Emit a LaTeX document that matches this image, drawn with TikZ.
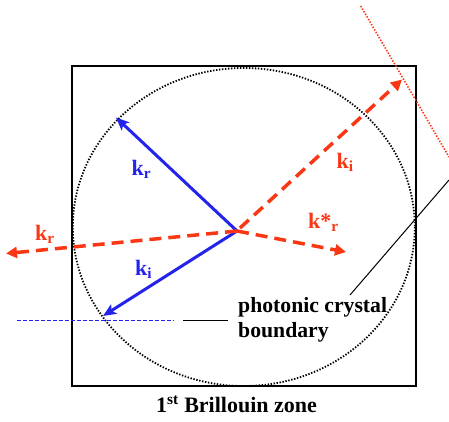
\documentclass[tikz,border=0pt]{standalone}
\usepackage{fontspec}
\setmainfont{Liberation Serif}[BoldFont={Liberation Serif Bold}]
\usetikzlibrary{arrows.meta}
\definecolor{kred}{RGB}{250,55,20}
\definecolor{kblue}{RGB}{35,35,235}
\tikzset{
  lbl/.style={anchor=base west, inner sep=0pt, font=\fontsize{22}{25}\selectfont\bfseries},
  txt/.style={inner sep=0pt, font=\fontsize{21.7}{25}\selectfont\bfseries},
  bluevec/.style={kblue, line width=3pt, -{Stealth[length=13pt,width=11pt,inset=3pt]}},
  redvec/.style={kred, line width=3.5pt, dash pattern=on 12pt off 7pt, -{Triangle[length=11pt,width=11pt]}},
}
\begin{document}
\begin{tikzpicture}[x=1pt,y=-1pt]
\useasboundingbox (0,0) rectangle (449,421);
% Brillouin zone box
\draw[line width=2pt] (72,66) rectangle (416,386);
% dotted circle
\draw[line width=1.8pt, dash pattern=on 1.4pt off 1.6pt] (243.8,227) ellipse [x radius=171, y radius=159];
% red dotted line
\draw[kred, line width=1.6pt, dash pattern=on 1.4pt off 1.6pt] (360.7,6) -- (449,157);
% coordinates
\coordinate (O) at (237,231);
\coordinate (Oi) at (240,228);
\coordinate (bkr) at (116,117.5);
\coordinate (bki) at (103,316);
\coordinate (rki) at (402,79.5);
\coordinate (rkr) at (6,253.5);
\coordinate (rks) at (346,252);
\coordinate (p1) at (449,180);
\coordinate (p2) at (350,295);
\coordinate (d1) at (16.7,320);
\coordinate (d2) at (173,320);
\coordinate (s1) at (183,320);
\coordinate (s2) at (228,320);
% vectors
\draw[bluevec] (O) -- (bkr);
\draw[bluevec] (O) -- (bki);
\draw[redvec] (Oi) -- (rki);
\draw[redvec] (O) -- (rkr);
\draw[redvec] (O) -- (rks);
% boundary lines
\draw[kblue, line width=1pt, dash pattern=on 4pt off 2pt] (d1) -- (d2);
\draw[line width=1pt] (s1) -- (s2);
\draw[line width=1pt] (p1) -- (p2);
% labels
\node[lbl, kblue] (lkr) at (131.5,175) {k\textsubscript{r}};
\node[lbl, kblue] (lki) at (135,275) {k\textsubscript{i}};
\node[lbl, kred] (rlki) at (336.5,168) {k\textsubscript{i}};
\node[lbl, kred] (rlkr) at (35,240) {k\textsubscript{r}};
\node[lbl, kred] (rlks) at (308,228) {k*\textsubscript{r}};
\node[txt, anchor=base west] (pcb1) at (238,312) {photonic crystal};
\node[txt, anchor=base west] (pcb2) at (238,337) {boundary};
\node[txt, anchor=base, font=\fontsize{22}{25}\selectfont\bfseries] (bz) at (236.5,412) {1\textsuperscript{st} Brillouin zone};
\end{tikzpicture}
\end{document}
